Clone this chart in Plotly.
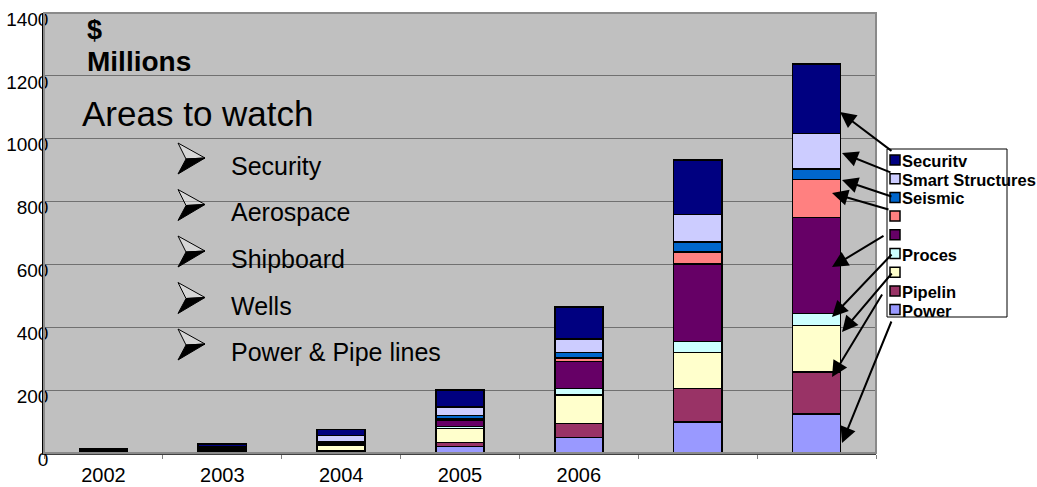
import plotly.graph_objects as go

# ---------------- data ----------------
years = ["2002", "2003", "2004", "2005", "2006", " ", "  "]

power    = [1, 2, 3, 20, 50, 98, 124]
pipelin  = [1, 2, 3, 14, 44, 108, 133]
wells    = [2, 4, 18, 44, 90, 114, 148]
proces   = [1, 1, 2, 6, 22, 34, 39]
purple_s = [1, 2, 4, 20, 85, 247, 305]
pink_s   = [0.5, 1, 2, 4, 11, 39, 122]
seismic  = [0.5, 1, 3, 12, 17, 31, 32]
smart    = [3, 6, 21, 27, 44, 88, 114]
security = [5, 9, 19, 53, 101, 173, 220]

# bottom -> top stacking order
series_values = [power, pipelin, wells, proces, purple_s, pink_s, seismic, smart, security]
series_labels = ["Power", "Pipelin", "", "Proces", "", "", "Seismic", "Smart Structures", "Securitv"]
series_colors = ["#9999FF", "#993366", "#FFFFCC", "#CCFFFF", "#660066",
                 "#FF8080", "#0066CC", "#CCCCFF", "#000080"]

y_ticks = [0, 200, 400, 600, 800, 1000, 1200, 1400]

bullets = ["Security", "Aerospace", "Shipboard", "Wells", "Power & Pipe lines"]

# ---------------- layout helpers ----------------
W, H = 1037, 487
L, R, T, B = 44, 161, 13, 34
PW, PH = W - L - R, H - T - B
YMAX = 1400


def xp(px):
    return (px - L) / PW


def yp(py):
    return (H - B - py) / PH


FONT = "Liberation Sans, Arial, Helvetica, sans-serif"

fig = go.Figure()
for vals, lab, col in zip(series_values, series_labels, series_colors):
    fig.add_trace(go.Bar(
        x=years, y=vals, name=lab,
        marker=dict(color=col, line=dict(color="#000000", width=1.5)),
        showlegend=False,
    ))

annotations = []
shapes = []

# plot-area border (top/right in grey)
shapes.append(dict(type="rect", xref="paper", yref="paper", x0=0, x1=1, y0=0, y1=1,
                   line=dict(color="#8a8a8a", width=2), layer="above"))

# "$ Millions" and "Areas to watch"
annotations.append(dict(xref="paper", yref="paper", x=xp(85), y=yp(30), text="<b>$</b>",
                        showarrow=False, xanchor="left", yanchor="middle",
                        font=dict(family=FONT, size=27, color="#000")))
annotations.append(dict(xref="paper", yref="paper", x=xp(85), y=yp(62), text="<b>Millions</b>",
                        showarrow=False, xanchor="left", yanchor="middle",
                        font=dict(family=FONT, size=28, color="#000")))
annotations.append(dict(xref="paper", yref="paper", x=xp(80), y=yp(114), text="Areas to watch",
                        showarrow=False, xanchor="left", yanchor="middle",
                        font=dict(family=FONT, size=35, color="#000")))


def arrow_bullet(x0, cy):
    # 3-D arrowhead bullet: light upper half, black lower half
    pts = dict(tl=(x0, cy - 15), tip=(x0 + 27, cy), bl=(x0, cy + 16), notch=(x0 + 8, cy + 1))
    P = {k: (xp(v[0]), yp(v[1])) for k, v in pts.items()}
    up = "M{0},{1} L{2},{3} L{4},{5} Z".format(*P["tl"], *P["tip"], *P["notch"])
    lo = "M{0},{1} L{2},{3} L{4},{5} Z".format(*P["notch"], *P["tip"], *P["bl"])
    return [
        dict(type="path", xref="paper", yref="paper", path=up,
             line=dict(color="#000", width=1), fillcolor="rgba(255,255,255,0.35)", layer="above"),
        dict(type="path", xref="paper", yref="paper", path=lo,
             line=dict(color="#000", width=1), fillcolor="#000", layer="above"),
    ]


for i, b in enumerate(bullets):
    cy = 165 + i * 46.5
    shapes.extend(arrow_bullet(178, cy - 7))
    annotations.append(dict(xref="paper", yref="paper", x=xp(229), y=yp(cy + 1), text=b,
                            showarrow=False, xanchor="left", yanchor="middle",
                            font=dict(family=FONT, size=25, color="#000")))

# manual legend box
shapes.append(dict(type="rect", xref="paper", yref="paper",
                   x0=xp(887), x1=xp(1007), y0=yp(317), y1=yp(149),
                   line=dict(color="#000", width=1), fillcolor="#FFFFFF", layer="above"))
order_top = list(range(len(series_labels)))[::-1]
for row, si in enumerate(order_top):
    cy = 160 + row * 18.7
    shapes.append(dict(type="rect", xref="paper", yref="paper",
                       x0=xp(890), x1=xp(900), y0=yp(cy + 5), y1=yp(cy - 5),
                       line=dict(color="#000", width=1.5), fillcolor=series_colors[si],
                       layer="above"))
    if series_labels[si]:
        annotations.append(dict(xref="paper", yref="paper", x=xp(900), y=yp(cy + 1),
                                text="<b>" + series_labels[si] + "</b>",
                                showarrow=False, xanchor="left", yanchor="middle",
                                font=dict(family=FONT, size=16.5, color="#000")))

# arrows from legend to the last bar (top -> bottom legend order), in pixels
arrow_tips = [(840, 112), (842, 153), (842, 180), (832, 193), (832, 267),
              (832, 317), (842, 332), (832, 377), (842, 443)]
arrow_tails = [(893, 152), (892, 173), (893, 197), (890, 210), (885, 235),
               (893, 253), (893, 272), (883, 293), (892, 320)]
for (tx, ty), (sx, sy) in zip(arrow_tips, arrow_tails):
    annotations.append(dict(xref="paper", yref="paper", x=xp(tx), y=yp(ty),
                            axref="pixel", ayref="pixel", ax=sx - tx, ay=sy - ty,
                            showarrow=True, arrowhead=2, arrowsize=1.6, arrowwidth=2,
                            arrowcolor="#000", text=""))

fig.update_layout(
    width=W, height=H,
    margin=dict(l=L, r=R, t=T, b=B, pad=0, autoexpand=False),
    paper_bgcolor="#FFFFFF",
    plot_bgcolor="#C0C0C0",
    barmode="stack",
    bargap=0.595,
    font=dict(family=FONT, color="#000"),
    annotations=annotations,
    shapes=shapes,
    showlegend=False,
)
fig.update_xaxes(
    type="category", categoryorder="array", categoryarray=years,
    tickson="boundaries", ticks="outside", ticklen=4, tickcolor="#808080",
    showline=True, linecolor="#404040", linewidth=1.5, automargin=False,
    showgrid=False, tickfont=dict(family=FONT, size=20, color="#000"),
    ticklabelstandoff=3,
)
fig.update_yaxes(
    range=[0, YMAX], tickvals=y_ticks, ticks="", automargin=False,
    showline=True, linecolor="#000", linewidth=1.5,
    showgrid=True, gridcolor="#707070", gridwidth=1, zeroline=False,
    tickfont=dict(family=FONT, size=19, color="#000"),
    ticklabelstandoff=-10, ticklabelshift=6,
)

fig.write_html("out.html")
